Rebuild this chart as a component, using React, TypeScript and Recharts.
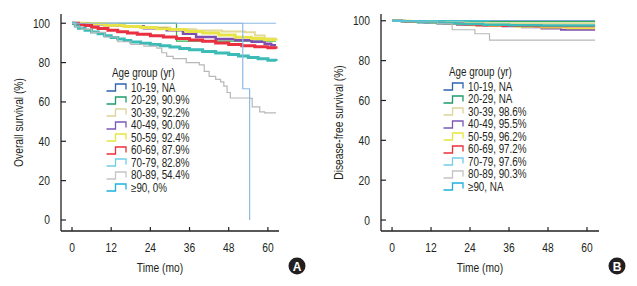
import { LineChart, Line, XAxis, YAxis, Legend } from 'recharts'

const FONT = "'Liberation Sans', Arial, sans-serif"
const NARROW = 0.82
const INK = '#231f20'

const ageGroups = ['10-19', '20-29', '30-39', '40-49', '50-59', '60-69', '70-79', '80-89', '≥90']
const osRates = ['NA', '90.9%', '92.2%', '90.0%', '92.4%', '87.9%', '82.8%', '54.4%', '0%']
const dfsRates = ['NA', 'NA', '98.6%', '95.5%', '96.2%', '97.2%', '97.6%', '90.3%', 'NA']
const monthTicks = [0, 12, 24, 36, 48, 60]
const pctTicks = [0, 20, 40, 60, 80, 100]

// overall survival, [month, %] at each step
const os1019 = [[0, 100], [62.5, 100]]
const os2029 = [[0, 100], [32, 90.9], [62.5, 90.9]]
const os3039 = [[0, 100], [6, 99.5], [14, 98.6], [22, 97.8], [30, 97], [38, 96.3], [46, 95.8], [53, 95.4], [56, 93.8], [59, 92.2], [62.5, 92.2]]
const os4049 = [[0, 100], [5, 99.5], [10, 99], [16, 98.3], [22, 97.5], [29, 96.4], [34, 94.6], [38, 93], [44, 92], [50, 91.3], [55, 90.6], [59, 89.6], [61, 88.8], [62.5, 88.8]]
const os5059 = [[0, 100], [4, 99.7], [10, 99], [16, 98.3], [21, 97.8], [26, 97.2], [30, 96.8], [35, 95.8], [40, 95], [45, 94], [50, 92.9], [55, 92.2], [59, 91.6], [62.5, 91.2]]
const os6069 = [[0, 100], [2, 99.4], [4, 98.8], [6, 98], [8, 97.3], [11, 96.5], [14, 95.7], [17, 95], [20, 94.4], [24, 93.7], [28, 93], [32, 92.3], [36, 91.5], [40, 90.8], [44, 90], [48, 89.2], [52, 88.6], [56, 88], [60, 87.5], [62.5, 87]]
const os7079 = [[0, 100], [1, 98.6], [2, 97.4], [4, 96.4], [6, 95.5], [8, 94.6], [10, 93.7], [12, 92.8], [14, 92], [16, 91.2], [18, 90.5], [21, 89.8], [24, 89.2], [27, 88.6], [30, 87.9], [33, 87.2], [36, 86.5], [40, 85.7], [44, 84.9], [48, 84.1], [51, 83.4], [54, 82.6], [57, 81.9], [60, 81.2], [62.5, 80.8]]
const os8089 = [[0, 100], [1, 98.2], [3, 97], [6, 95.4], [10, 93], [14, 90.6], [18, 89.2], [22, 88.4], [26, 87.4], [27.5, 85], [29, 83.2], [31, 82], [35, 80], [39, 78.8], [40.5, 75.5], [42, 73], [44, 71.5], [45.5, 70.2], [46.5, 68], [47.5, 64.8], [48.5, 62], [54.5, 61.8], [55.2, 57.5], [57.5, 55], [59, 54.4], [62.5, 54.4]]
const os90 = [[0, 100], [52.3, 66.7], [54.4, 0]]

// disease-free survival
const dfs1019 = [[0, 100], [62.5, 100]]
const dfs2029 = [[0, 100], [24, 99.6], [62.5, 99.6]]
const dfs3039 = [[0, 100], [6, 99.6], [14, 99.2], [22, 98.9], [30, 98.6], [62.5, 98.6]]
const dfs4049 = [[0, 100], [4, 99.6], [10, 99.1], [16, 98.6], [22, 98.1], [28, 97.6], [34, 97.2], [40, 96.7], [46, 96.1], [52, 95.5], [62.5, 95.5]]
const dfs5059 = [[0, 100], [5, 99.5], [12, 99], [18, 98.4], [24, 97.8], [30, 97.4], [38, 97], [46, 96.6], [54, 96.2], [62.5, 96.2]]
const dfs6069 = [[0, 100], [3, 99.6], [8, 99.2], [14, 98.6], [20, 98], [26, 97.6], [34, 97.4], [44, 97.2], [62.5, 97.2]]
const dfs7079 = [[0, 100], [3, 99.7], [8, 99.3], [14, 98.8], [20, 98.4], [28, 98], [36, 97.8], [46, 97.6], [62.5, 97.6]]
const dfs8089 = [[0, 100], [8, 99.5], [14, 98.5], [18.5, 95.5], [25.5, 93.5], [30, 90.3], [62.5, 90.3]]
const dfs90 = [[0, 100], [30, 100]]

const osSeries = [os1019, os2029, os3039, os4049, os5059, os6069, os7079, os8089, os90]
const dfsSeries = [dfs1019, dfs2029, dfs3039, dfs4049, dfs5059, dfs6069, dfs7079, dfs8089, dfs90]

const legendColors = ['#2c64b0', '#1e9a68', '#ddd49a', '#7a58b8', '#e6e63c', '#ec3038', '#72cde6', '#c4c4c4', '#1eb0dc']
const osLineColors = ['#8cbbe6', '#35b050', '#e2da96', '#7e4fb0', '#e8e448', '#ea3040', '#3dbbb6', '#b8b8b8', '#8cbbe6']
const dfsLineColors = ['#4b86cc', '#35b050', '#e2da96', '#7e4fb0', '#e8e448', '#ea3040', '#3dbbb6', '#b8b8b8', '#3ec6e0']
const osWidths = [1.2, 1.2, 2, 2.5, 3, 3, 3, 1.2, 1.2]
const dfsWidths = [1.2, 1.2, 2, 2, 2, 2, 2.5, 1.2, 1.2]

const toPoints = (s: number[][]) => s.map(([t, v]) => ({ t, v }))

// narrow text: Arial squeezed horizontally, like Arial Narrow
function NText({ x, y, anchor = 'start', size = 12.5, fill = INK, rotate = 0, children }: any) {
  return (
    <text
      transform={`translate(${x},${y}) rotate(${rotate}) scale(${NARROW},1)`}
      textAnchor={anchor}
      fontSize={size}
      fontFamily={FONT}
      fill={fill}
    >
      {children}
    </text>
  )
}

function XTick({ x, y, payload }: any) {
  return (
    <g>
      <line x1={x} x2={x} y1={y} y2={y - 4} stroke={INK} strokeWidth={1.2} />
      <NText x={x} y={y + 21} anchor="middle">{payload.value}</NText>
    </g>
  )
}

function YTick({ x, y, payload }: any) {
  return (
    <g>
      <line x1={x} x2={x + 5} y1={y} y2={y} stroke={INK} strokeWidth={1.2} />
      <NText x={x - 11} y={y + 4.5} anchor="end">{payload.value}</NText>
    </g>
  )
}

function AgeLegend({ rates }: { rates: string[] }) {
  return (
    <div style={{ fontFamily: FONT, fontSize: 12, color: INK, lineHeight: '12.5px' }}>
      <div style={{ paddingLeft: 6, marginBottom: 2, whiteSpace: 'nowrap' }}>
        <span style={{ display: 'inline-block', transform: `scaleX(${NARROW})`, transformOrigin: 'left center' }}>Age group (yr)</span>
      </div>
      {ageGroups.map((g, i) => (
        <div key={g} style={{ display: 'flex', alignItems: 'center', height: 12.5, whiteSpace: 'nowrap' }}>
          <svg width={21} height={9} style={{ marginRight: 4, flex: 'none' }}>
            <path d="M0.5,8 H9.5 V1 H20 V6.5" fill="none" stroke={legendColors[i]} strokeWidth={1.3} />
          </svg>
          <span style={{ display: 'inline-block', transform: `scaleX(${NARROW})`, transformOrigin: 'left center' }}>
            {g}, {rates[i]}
          </span>
        </div>
      ))}
    </div>
  )
}

interface PanelProps {
  series: number[][][]
  colors: string[]
  widths: number[]
  rates: string[]
  yTitle: string
  letter: string
  xDomain: number[]
  yDomain: number[]
  width: number
  legendLeft: number
  legendTop: number
}

function Panel({ series, colors, widths, rates, yTitle, letter, xDomain, yDomain, width, legendLeft, legendTop }: PanelProps) {
  return (
    <LineChart width={width} height={286} margin={{ top: 14, right: width - 279, bottom: 54, left: 60 }}>
      <XAxis
        type="number"
        dataKey="t"
        domain={xDomain}
        ticks={monthTicks}
        allowDataOverflow
        height={1}
        tickSize={0}
        tickMargin={0}
        tickLine={false}
        tick={<XTick />}
        axisLine={{ stroke: INK, strokeWidth: 1.3 }}
        label={{
          content: ({ viewBox }: any) => (
            <g>
              <NText x={viewBox.x + viewBox.width / 2 - 10} y={viewBox.y + 41} anchor="middle">Time (mo)</NText>
              <circle cx={viewBox.x + viewBox.width + 18} cy={viewBox.y + 35} r={8.5} fill={INK} />
              <text x={viewBox.x + viewBox.width + 18} y={viewBox.y + 39.5} textAnchor="middle" fontSize={12} fontWeight="bold" fontFamily={FONT} fill="#fff">{letter}</text>
            </g>
          ),
        }}
      />
      <YAxis
        type="number"
        domain={yDomain}
        ticks={pctTicks}
        allowDataOverflow
        width={1}
        tickSize={0}
        tickMargin={0}
        tickLine={false}
        tick={<YTick />}
        axisLine={{ stroke: INK, strokeWidth: 1.3 }}
        label={{
          content: ({ viewBox }: any) => (
            <NText x={viewBox.x + viewBox.width - 38.5} y={viewBox.y + viewBox.height / 2} anchor="middle" rotate={-90}>
              {yTitle}
            </NText>
          ),
        }}
      />
      <Legend
        layout="vertical"
        align="center"
        verticalAlign="middle"
        wrapperStyle={{ left: legendLeft, top: legendTop, width: 110 }}
        content={() => <AgeLegend rates={rates} />}
      />
      {series.map((s, i) => (
        <Line
          key={ageGroups[i]}
          name={ageGroups[i]}
          data={toPoints(s)}
          dataKey="v"
          type="stepAfter"
          stroke={colors[i]}
          strokeWidth={widths[i]}
          dot={false}
          isAnimationActive={false}
        />
      ))}
    </LineChart>
  )
}

export default function App() {
  return (
    <div style={{ position: 'absolute', left: 0, top: 0, width: 637, height: 286, background: '#fff' }}>
      <div style={{ position: 'absolute', left: 0, top: 0 }}>
        <Panel
          series={osSeries}
          colors={osLineColors}
          widths={osWidths}
          rates={osRates}
          yTitle="Overall survival (%)"
          letter="A"
          xDomain={[-3.37, 63.4]}
          yDomain={[-5.6, 104.7]}
          width={320}
          legendLeft={106}
          legendTop={67}
        />
      </div>
      <div style={{ position: 'absolute', left: 320, top: 0 }}>
        <Panel
          series={dfsSeries}
          colors={dfsLineColors}
          widths={dfsWidths}
          rates={dfsRates}
          yTitle="Disease-free survival (%)"
          letter="B"
          xDomain={[-3.4, 63.7]}
          yDomain={[-5.5, 103.4]}
          width={317}
          legendLeft={123}
          legendTop={66}
        />
      </div>
    </div>
  )
}
